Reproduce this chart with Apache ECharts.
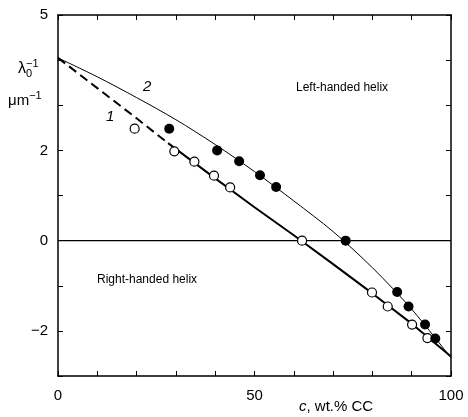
<!DOCTYPE html>
<html>
<head>
<meta charset="utf-8">
<script src="https://cdn.jsdelivr.net/npm/echarts@6/dist/echarts.min.js"></script>
<style>
html, body { margin: 0; padding: 0; background: #fff; }
#main { width: 468px; height: 417px; }
</style>
</head>
<body>
<div id="main"></div>
<script>
// open circles (curve 1)
var openPts = [[19.5, 2.48], [29.6, 1.98], [34.7, 1.75], [39.7, 1.44], [43.8, 1.18],
    [62.1, 0.0], [79.9, -1.15], [83.9, -1.46], [90.1, -1.86], [94.0, -2.16]];
// filled circles (curve 2)
var filledPts = [[28.3, 2.48], [40.5, 2.0], [46.1, 1.76], [51.4, 1.45], [55.5, 1.19],
    [73.2, 0.0], [86.3, -1.14], [89.2, -1.46], [93.4, -1.86], [96.0, -2.17]];
// curve 1: dashed start, then solid
var curve1Dashed = [[0, 4.05], [10, 3.38], [20, 2.71], [28, 2.16]];
var curve1Solid = [[28, 2.16], [40, 1.38], [50, 0.74], [60, 0.12], [70, -0.52],
    [80, -1.17], [90, -1.84], [100, -2.57]];
// curve 2
var curve2 = [[0, 4.05], [10, 3.63], [20, 3.17], [30, 2.68], [40, 2.13], [50, 1.53],
    [60, 0.88], [70, 0.2], [80, -0.6], [90, -1.52], [100, -2.6]];
var zeroLine = [[0, 0], [100, 0]];
var xLabels = [0, 50, 100];
var yLabels = [5, 2, 0, -2];

var font = 'Liberation Sans, Arial, sans-serif';
var myChart = echarts.init(document.getElementById('main'));

var axisCommon = {
    axisLine: { show: true, onZero: false, lineStyle: { color: '#000', width: 1.5 } },
    axisTick: { show: true, inside: true, length: 5, lineStyle: { color: '#000' } },
    splitLine: { show: false }
};

var option = {
    backgroundColor: '#fff',
    animation: false,
    grid: { left: 58, right: 17, top: 15, bottom: 41 },
    xAxis: [
        Object.assign({
            type: 'value', min: 0, max: 100, interval: 10, position: 'bottom',
            axisLabel: {
                color: '#000', fontSize: 15, fontFamily: font, margin: 12,
                formatter: function (v) { return xLabels.indexOf(v) >= 0 ? String(v) : ''; }
            }
        }, axisCommon),
        Object.assign({
            type: 'value', min: 0, max: 100, interval: 10, position: 'top',
            axisLabel: { show: false }
        }, axisCommon)
    ],
    yAxis: [
        Object.assign({
            type: 'value', min: -3, max: 5, interval: 1, position: 'left',
            axisLabel: {
                color: '#000', fontSize: 15, fontFamily: font, margin: 10,
                formatter: function (v) { return yLabels.indexOf(v) >= 0 ? String(v).replace('-', '\u2212') : ''; }
            }
        }, axisCommon),
        Object.assign({
            type: 'value', min: -3, max: 5, interval: 1, position: 'right',
            axisLabel: { show: false }
        }, axisCommon)
    ],
    series: [
        {
            type: 'line', data: zeroLine, symbol: 'none',
            lineStyle: { color: '#000', width: 1.3 }
        },
        {
            type: 'line', data: curve1Dashed, symbol: 'none',
            lineStyle: { color: '#000', width: 2, type: [9, 5] }
        },
        {
            type: 'line', data: curve1Solid, symbol: 'none',
            lineStyle: { color: '#000', width: 2 }
        },
        {
            type: 'line', data: curve2, symbol: 'none', smooth: 0.3,
            lineStyle: { color: '#000', width: 1 }
        },
        {
            type: 'scatter', data: openPts, symbol: 'circle', symbolSize: 9,
            itemStyle: { color: '#fff', borderColor: '#000', borderWidth: 1.2, opacity: 1 },
            z: 5
        },
        {
            type: 'scatter', data: filledPts, symbol: 'circle', symbolSize: 10,
            itemStyle: { color: '#000', opacity: 1 },
            z: 6
        }
    ],
    graphic: [
        {
            type: 'text', left: 18, top: 58,
            style: {
                text: '{a|\u03bb}{s|0}{p|\u22121}',
                rich: {
                    a: { fontSize: 16, fontFamily: font, fill: '#000' },
                    s: { fontSize: 11, fontFamily: font, fill: '#000', verticalAlign: 'bottom', padding: [10, 0, 0, 0] },
                    p: { fontSize: 11, fontFamily: font, fill: '#000', verticalAlign: 'top', padding: [0, 0, 10, -6] }
                }
            }
        },
        {
            type: 'text', left: 8, top: 90,
            style: {
                text: '{a|\u03bcm}{p|\u22121}',
                rich: {
                    a: { fontSize: 15, fontFamily: font, fill: '#000' },
                    p: { fontSize: 11, fontFamily: font, fill: '#000', verticalAlign: 'top', padding: [0, 0, 10, 0] }
                }
            }
        },
        {
            type: 'text', left: 296, top: 82,
            style: { text: 'Left-handed helix', fontSize: 12, fontFamily: font, fill: '#000' }
        },
        {
            type: 'text', left: 97, top: 274,
            style: { text: 'Right-handed helix', fontSize: 12, fontFamily: font, fill: '#000' }
        },
        {
            type: 'text', left: 106, top: 109,
            style: { text: '1', fontSize: 15, fontStyle: 'italic', fontFamily: font, fill: '#000' }
        },
        {
            type: 'text', left: 143, top: 79,
            style: { text: '2', fontSize: 15, fontStyle: 'italic', fontFamily: font, fill: '#000' }
        },
        {
            type: 'text', left: 299, top: 399,
            style: {
                text: '{i|c}{n|, wt.% CC}',
                rich: {
                    i: { fontSize: 15, fontStyle: 'italic', fontFamily: font, fill: '#000' },
                    n: { fontSize: 15, fontFamily: font, fill: '#000' }
                }
            }
        }
    ]
};

myChart.setOption(option);
</script>
</body>
</html>
